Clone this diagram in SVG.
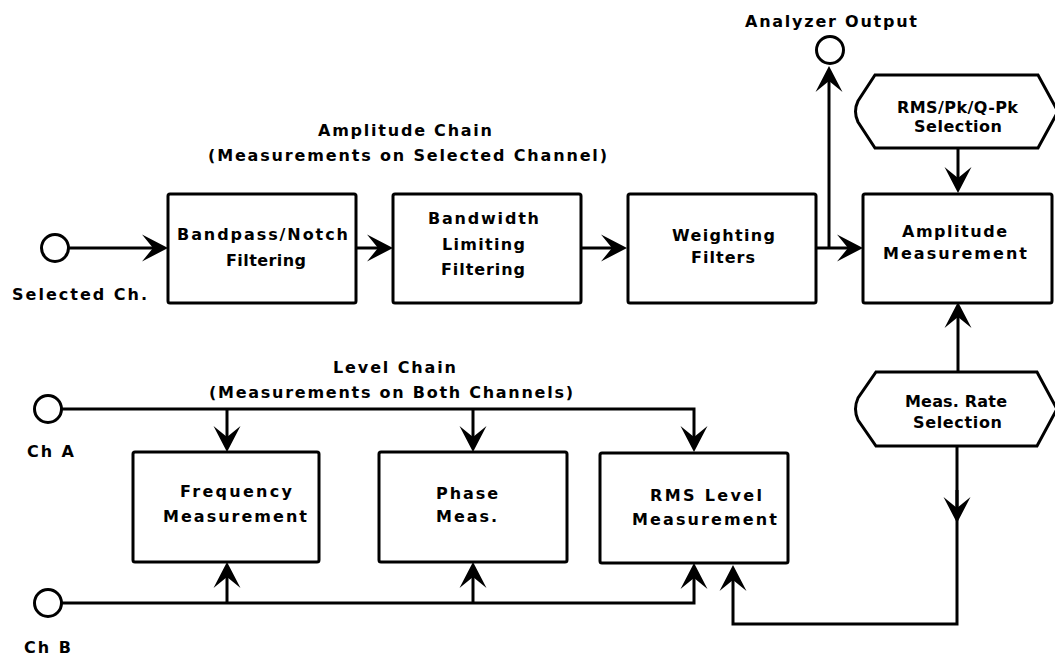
<svg xmlns="http://www.w3.org/2000/svg" width="1055" height="657" viewBox="0 0 1055 657">
<defs>
<style>
.box{fill:#fff;stroke:#000;stroke-width:3}
.term{fill:#fff;stroke:#000;stroke-width:3}
.conn{fill:none;stroke:#000;stroke-width:3}
.t{font-family:"DejaVu Sans","Liberation Sans",Arial,sans-serif;font-weight:bold;font-size:16px;fill:#000;text-anchor:middle}
.s{text-anchor:start}
</style>
<marker id="arr" markerUnits="userSpaceOnUse" viewBox="-27 -15 29 30" markerWidth="29" markerHeight="30" refX="-10" refY="0" orient="auto">
<path d="M0,0 L-26,-13.5 L-15,0 L-26,13.5 Z" fill="#000"/>
</marker>
</defs>
<rect width="1055" height="657" fill="#fff"/>

<g id="connectors">
<path class="conn" d="M69,248 L158,248" marker-end="url(#arr)"/>
<path class="conn" d="M356,248 L383,248" marker-end="url(#arr)"/>
<path class="conn" d="M581,248 L617,248" marker-end="url(#arr)"/>
<path class="conn" d="M816,248 L853,248" marker-end="url(#arr)"/>
<path class="conn" d="M829,248 L829,76" marker-end="url(#arr)"/>
<path class="conn" d="M958,148 L958,183" marker-end="url(#arr)"/>
<path class="conn" d="M958,372 L958,312" marker-end="url(#arr)"/>
<path class="conn" d="M957,446 L957,624 L733,624 L733,575" marker-end="url(#arr)"/>
<path class="conn" d="M957,490 L957,513" marker-end="url(#arr)"/>
<path class="conn" d="M62,409 L694,409 L694,442" marker-end="url(#arr)"/>
<path class="conn" d="M227,409 L227,442" marker-end="url(#arr)"/>
<path class="conn" d="M473,409 L473,442" marker-end="url(#arr)"/>
<path class="conn" d="M62,603 L694,603 L694,573" marker-end="url(#arr)"/>
<path class="conn" d="M227,603 L227,572" marker-end="url(#arr)"/>
<path class="conn" d="M473,603 L473,572" marker-end="url(#arr)"/>
</g>

<g id="selected-ch">
<circle class="term" cx="55" cy="248" r="13.5"/>
<text class="t" x="79.5" y="300" textLength="135" lengthAdjust="spacing">Selected Ch.</text>
</g>

<g id="analyzer-output">
<circle class="term" cx="830" cy="50" r="13.5"/>
<text class="t" x="831" y="27" textLength="172" lengthAdjust="spacing">Analyzer Output</text>
</g>

<g id="amplitude-chain-label">
<text class="t" x="405" y="136" textLength="174" lengthAdjust="spacing">Amplitude Chain</text>
<text class="t" x="407.5" y="161" textLength="399" lengthAdjust="spacing">(Measurements on Selected Channel)</text>
</g>

<g id="bandpass">
<rect class="box" x="168" y="194" width="188" height="109" rx="2"/>
<text class="t" x="262.5" y="240" textLength="171" lengthAdjust="spacing">Bandpass/Notch</text>
<text class="t" x="266" y="266" textLength="80" lengthAdjust="spacing">Filtering</text>
</g>

<g id="bandwidth">
<rect class="box" x="393" y="194" width="188" height="109" rx="2"/>
<text class="t" x="483.5" y="224" textLength="111" lengthAdjust="spacing">Bandwidth</text>
<text class="t" x="483.5" y="250" textLength="83" lengthAdjust="spacing">Limiting</text>
<text class="t" x="483" y="275" textLength="84" lengthAdjust="spacing">Filtering</text>
</g>

<g id="weighting">
<rect class="box" x="628" y="194" width="188" height="109" rx="2"/>
<text class="t" x="723.5" y="241" textLength="103" lengthAdjust="spacing">Weighting</text>
<text class="t" x="723" y="263" textLength="64" lengthAdjust="spacing">Filters</text>
</g>

<g id="amplitude">
<rect class="box" x="863" y="194" width="189" height="109" rx="2"/>
<text class="t" x="954.5" y="237" textLength="105" lengthAdjust="spacing">Amplitude</text>
<text class="t" x="955" y="259" textLength="144" lengthAdjust="spacing">Measurement</text>
</g>

<g id="rms-pk-selection">
<path class="term" d="M875,75 L1038,75 L1058,111.5 L1038,148 L875,148 L858,122 Q853,111.5 858,101 Z"/>
<text class="t" x="957.5" y="113" textLength="121" lengthAdjust="spacing">RMS/Pk/Q-Pk</text>
<text class="t" x="958" y="132" textLength="88" lengthAdjust="spacing">Selection</text>
</g>

<g id="level-chain-label">
<text class="t" x="394.5" y="373" textLength="123" lengthAdjust="spacing">Level Chain</text>
<text class="t" x="391" y="398" textLength="364" lengthAdjust="spacing">(Measurements on Both Channels)</text>
</g>

<g id="ch-a">
<circle class="term" cx="48" cy="409" r="13.5"/>
<text class="t" x="50.5" y="457" textLength="47" lengthAdjust="spacing">Ch A</text>
</g>

<g id="ch-b">
<circle class="term" cx="48" cy="603" r="13.5"/>
<text class="t" x="47.5" y="653" textLength="47" lengthAdjust="spacing">Ch B</text>
</g>

<g id="frequency">
<rect class="box" x="133" y="452" width="186" height="110" rx="2"/>
<text class="t" x="236" y="497" textLength="112" lengthAdjust="spacing">Frequency</text>
<text class="t" x="235" y="522" textLength="144" lengthAdjust="spacing">Measurement</text>
</g>

<g id="phase">
<rect class="box" x="379" y="452" width="188" height="110" rx="2"/>
<text class="t s" x="436" y="499" textLength="62" lengthAdjust="spacing">Phase</text>
<text class="t s" x="436" y="522" textLength="61" lengthAdjust="spacing">Meas.</text>
</g>

<g id="rms-level">
<rect class="box" x="600" y="453" width="188" height="110" rx="2"/>
<text class="t" x="706" y="501" textLength="112" lengthAdjust="spacing">RMS Level</text>
<text class="t" x="704.5" y="525" textLength="145" lengthAdjust="spacing">Measurement</text>
</g>

<g id="meas-rate-selection">
<path class="term" d="M876,372 L1037,372 L1057,409 L1037,446 L876,446 L858,420 Q853,409 858,398 Z"/>
<text class="t" x="956" y="407" textLength="102" lengthAdjust="spacing">Meas. Rate</text>
<text class="t" x="957.5" y="428" textLength="89" lengthAdjust="spacing">Selection</text>
</g>
</svg>
